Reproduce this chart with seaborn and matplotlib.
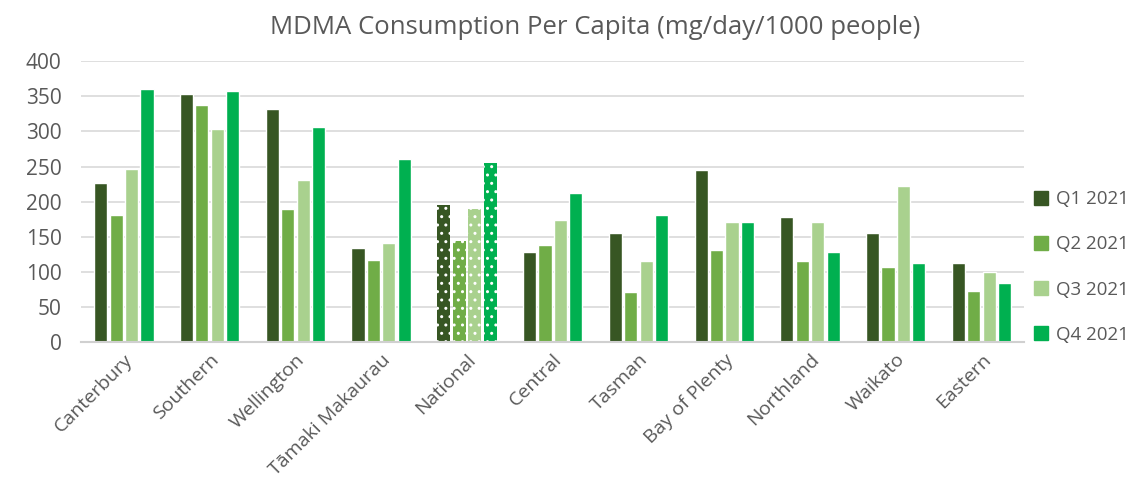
import pandas as pd
import matplotlib.pyplot as plt
import seaborn as sns

# Data
regions = ["Canterbury", "Southern", "Wellington", "Tāmaki Makaurau", "National",
           "Central", "Tasman", "Bay of Plenty", "Northland", "Waikato", "Eastern"]
quarters = ["Q1 2021", "Q2 2021", "Q3 2021", "Q4 2021"]
q1 = [226, 354, 332, 134, 195, 129, 156, 245, 178, 156, 113]
q2 = [181, 337, 190, 117, 144, 138, 71, 131, 115, 107, 73]
q3 = [246, 304, 231, 141, 189, 174, 115, 171, 171, 222, 100]
q4 = [361, 358, 307, 261, 255, 213, 181, 171, 129, 113, 84]
colors = ["#375623", "#70AD47", "#A9D18E", "#00B050"]

rows = []
for q, vals in zip(quarters, [q1, q2, q3, q4]):
    for r, v in zip(regions, vals):
        rows.append({"region": r, "quarter": q, "value": v})
df = pd.DataFrame(rows)

sns.set_style("white")
plt.rcParams["font.family"] = ["Open Sans", "DejaVu Sans"]
text_col = "#595959"

fig = plt.figure(figsize=(11.45, 4.82), dpi=100)
ax = fig.add_axes([0.0707, 0.29, 0.824, 0.583])

sns.barplot(data=df, x="region", y="value", hue="quarter", palette=colors,
            width=0.72, gap=0.15, ax=ax, saturation=1, legend=False)

# dotted pattern on the National bars
nat = regions.index("National")
plt.rcParams["hatch.linewidth"] = 2.0
for cont in ax.containers:
    bar = cont.patches[nat]
    bar.set_hatch("..")
    bar.set_edgecolor("white")
    bar.set_linewidth(0)

ax.set_ylim(0, 400)
ax.set_xlim(-0.5, len(regions) - 0.5)
ax.set_yticks(range(0, 401, 50))
ax.yaxis.grid(True, color="#D9D9D9", linewidth=1.2)
ax.set_axisbelow(True)
for s in ["top", "right", "left"]:
    ax.spines[s].set_visible(False)
ax.spines["bottom"].set_color("#D0D0D0")
ax.spines["bottom"].set_linewidth(1.5)
ax.tick_params(axis="both", length=0, colors=text_col)
ax.tick_params(axis="y", pad=14, labelsize=15)
ax.tick_params(axis="x", pad=6, labelsize=14)
plt.setp(ax.get_xticklabels(), rotation=45, ha="right", rotation_mode="anchor")
ax.set_xlabel("")
ax.set_ylabel("")

fig.text(0.52, 0.942, "MDMA Consumption Per Capita (mg/day/1000 people)",
         ha="center", va="center", fontsize=18.5, color=text_col)

handles = [plt.Rectangle((0, 0), 1, 1, color=c) for c in colors]
fig.legend(handles, quarters, loc="center left", bbox_to_anchor=(0.9, 0.446),
           frameon=False, fontsize=13.5, handlelength=0.75, handleheight=0.75,
           handletextpad=0.4, labelspacing=1.45, labelcolor=text_col,
           borderaxespad=0, borderpad=0.2)

fig.savefig("out.png", dpi=100)
